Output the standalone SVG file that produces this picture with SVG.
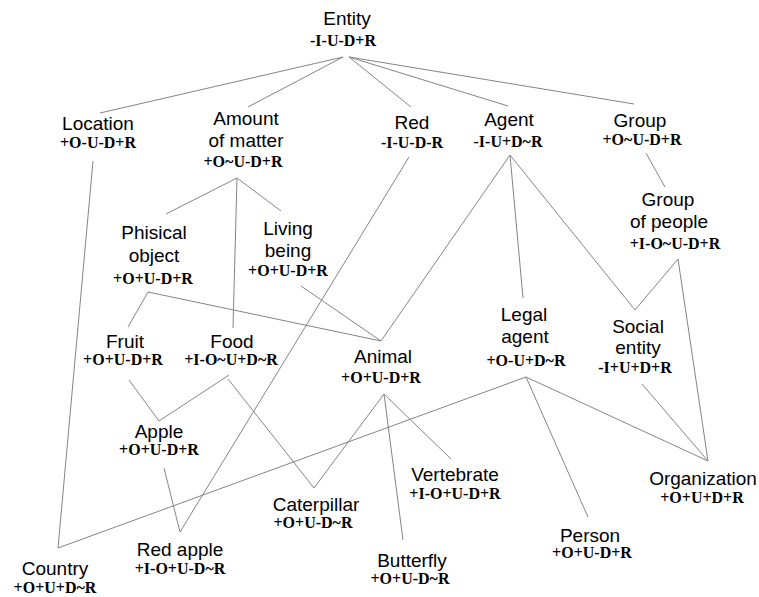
<svg xmlns="http://www.w3.org/2000/svg" width="759" height="597" viewBox="0 0 759 597">
  <style>
    .bg { fill: #ffffff; }
    .edge { stroke: #858585; stroke-width: 1; fill: none; }
    .name { font-family: "Liberation Sans", Arial, sans-serif; font-size: 19px; fill: #000; text-anchor: middle; }
    .tag { font-family: "Liberation Serif", "Times New Roman", serif; font-size: 16px; font-weight: bold; fill: #000; text-anchor: middle; }
  </style>
  <rect class="bg" x="0" y="0" width="759" height="597"/>

  <!-- connectors -->
  <g id="connectors">
    <line class="edge" x1="343" y1="57" x2="100" y2="113"/>
    <line class="edge" x1="343" y1="57" x2="248" y2="107"/>
    <line class="edge" x1="349" y1="57" x2="411" y2="107"/>
    <line class="edge" x1="349" y1="57" x2="508" y2="106"/>
    <line class="edge" x1="349" y1="57" x2="634" y2="104"/>
    <line class="edge" x1="93" y1="161" x2="58" y2="548"/>
    <line class="edge" x1="237" y1="178" x2="166" y2="214"/>
    <line class="edge" x1="237" y1="178" x2="233" y2="328"/>
    <line class="edge" x1="237" y1="178" x2="281" y2="211"/>
    <line class="edge" x1="409" y1="157" x2="180" y2="532"/>
    <line class="edge" x1="510" y1="155" x2="381" y2="341"/>
    <line class="edge" x1="510" y1="155" x2="523" y2="298"/>
    <line class="edge" x1="510" y1="155" x2="635" y2="310"/>
    <line class="edge" x1="646" y1="153" x2="665" y2="187"/>
    <line class="edge" x1="678" y1="259" x2="635" y2="310"/>
    <line class="edge" x1="678" y1="259" x2="708" y2="461"/>
    <line class="edge" x1="642" y1="384" x2="708" y2="461"/>
    <line class="edge" x1="526" y1="377" x2="58" y2="548"/>
    <line class="edge" x1="526" y1="377" x2="588" y2="517"/>
    <line class="edge" x1="526" y1="377" x2="708" y2="461"/>
    <line class="edge" x1="148" y1="292" x2="128" y2="327"/>
    <line class="edge" x1="148" y1="292" x2="381" y2="341"/>
    <line class="edge" x1="301" y1="286" x2="381" y2="341"/>
    <line class="edge" x1="129" y1="380" x2="159" y2="421"/>
    <line class="edge" x1="229" y1="375" x2="159" y2="421"/>
    <line class="edge" x1="228" y1="379" x2="314" y2="488"/>
    <line class="edge" x1="384" y1="394" x2="314" y2="488"/>
    <line class="edge" x1="384" y1="394" x2="451" y2="459"/>
    <line class="edge" x1="384" y1="394" x2="403" y2="540"/>
    <line class="edge" x1="164" y1="468" x2="180" y2="532"/>
  </g>

  <!-- nodes -->
  <g id="entity">
    <text class="name" x="347" y="25">Entity</text>
    <text class="tag" x="343" y="46">-I-U-D+R</text>
  </g>
  <g id="location">
    <text class="name" x="98" y="130">Location</text>
    <text class="tag" x="98" y="148">+O-U-D+R</text>
  </g>
  <g id="amount-of-matter">
    <text class="name" x="246" y="125">Amount</text>
    <text class="name" x="246" y="147">of matter</text>
    <text class="tag" x="243" y="167">+O~U-D+R</text>
  </g>
  <g id="red">
    <text class="name" x="412" y="129">Red</text>
    <text class="tag" x="412" y="148">-I-U-D-R</text>
  </g>
  <g id="agent">
    <text class="name" x="509" y="126">Agent</text>
    <text class="tag" x="508" y="147">-I-U+D~R</text>
  </g>
  <g id="group">
    <text class="name" x="640" y="127">Group</text>
    <text class="tag" x="642" y="145">+O~U-D+R</text>
  </g>
  <g id="group-of-people">
    <text class="name" x="668" y="206">Group</text>
    <text class="name" x="669" y="228">of people</text>
    <text class="tag" x="675" y="249">+I-O~U-D+R</text>
  </g>
  <g id="phisical-object">
    <text class="name" x="154" y="239">Phisical</text>
    <text class="name" x="154" y="262">object</text>
    <text class="tag" x="153" y="284">+O+U-D+R</text>
  </g>
  <g id="living-being">
    <text class="name" x="288" y="235">Living</text>
    <text class="name" x="288" y="257">being</text>
    <text class="tag" x="288" y="276">+O+U-D+R</text>
  </g>
  <g id="fruit">
    <text class="name" x="125" y="348">Fruit</text>
    <text class="tag" x="123" y="365">+O+U-D+R</text>
  </g>
  <g id="food">
    <text class="name" x="232" y="348">Food</text>
    <text class="tag" x="231" y="365">+I-O~U+D~R</text>
  </g>
  <g id="animal">
    <text class="name" x="383" y="363">Animal</text>
    <text class="tag" x="381" y="383">+O+U-D+R</text>
  </g>
  <g id="legal-agent">
    <text class="name" x="524" y="321">Legal</text>
    <text class="name" x="525" y="343">agent</text>
    <text class="tag" x="526" y="366">+O-U+D~R</text>
  </g>
  <g id="social-entity">
    <text class="name" x="638" y="333">Social</text>
    <text class="name" x="638" y="354">entity</text>
    <text class="tag" x="635" y="373">-I+U+D+R</text>
  </g>
  <g id="apple">
    <text class="name" x="159" y="438">Apple</text>
    <text class="tag" x="159" y="455">+O+U-D+R</text>
  </g>
  <g id="caterpillar">
    <text class="name" x="316" y="511">Caterpillar</text>
    <text class="tag" x="313" y="528">+O+U-D~R</text>
  </g>
  <g id="red-apple">
    <text class="name" x="180" y="556">Red apple</text>
    <text class="tag" x="180" y="574">+I-O+U-D~R</text>
  </g>
  <g id="country">
    <text class="name" x="55" y="575">Country</text>
    <text class="tag" x="55" y="593">+O+U+D~R</text>
  </g>
  <g id="vertebrate">
    <text class="name" x="455" y="481">Vertebrate</text>
    <text class="tag" x="455" y="499">+I-O+U-D+R</text>
  </g>
  <g id="butterfly">
    <text class="name" x="412" y="567">Butterfly</text>
    <text class="tag" x="410" y="584">+O+U-D~R</text>
  </g>
  <g id="person">
    <text class="name" x="590" y="542">Person</text>
    <text class="tag" x="592" y="558">+O+U-D+R</text>
  </g>
  <g id="organization">
    <text class="name" x="703" y="485">Organization</text>
    <text class="tag" x="702" y="503">+O+U+D+R</text>
  </g>
</svg>
